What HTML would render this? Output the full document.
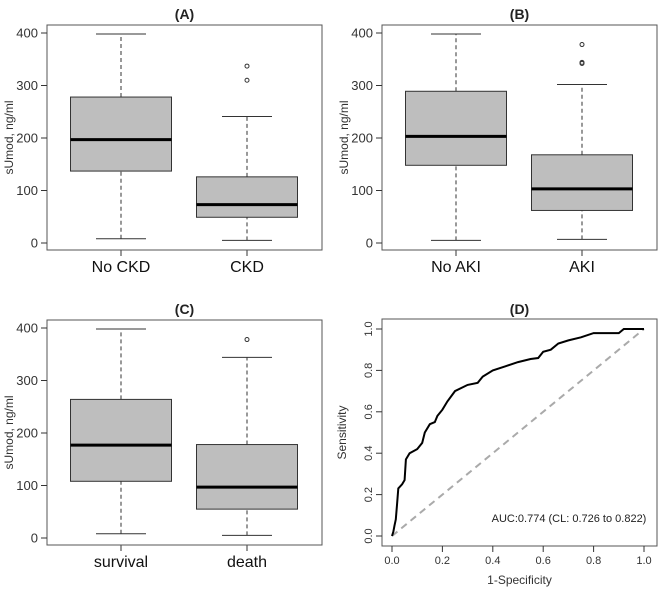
<!DOCTYPE html>
<html><head><meta charset="utf-8"><style>
body{margin:0;background:#fff}
svg{display:block;font-family:"Liberation Sans",Arial,sans-serif}
</style></head><body>
<svg id="fig" width="669" height="590" viewBox="0 0 669 590"></svg>
<script>
// Box plot data: [whiskerLow, Q1, median, Q3, whiskerHigh]
const catsA = ["No CKD", "CKD"];
const statsA = [[8,137,197,278,398],[5,49,73,126,241]];
const outA = [[],[310,337]];
const catsB = ["No AKI", "AKI"];
const statsB = [[5,148,203,289,398],[7,62,103,168,302]];
const outB = [[],[342,344,378]];
const catsC = ["survival", "death"];
const statsC = [[8,108,177,264,398],[5,55,97,178,344]];
const outC = [[],[378]];
const yTicks = [0,100,200,300,400];
// ROC data
const rocFpr = [0,0.005,0.01,0.015,0.02,0.025,0.04,0.05,0.055,0.07,0.1,0.12,0.13,0.15,0.17,0.18,0.2,0.22,0.25,0.3,0.34,0.36,0.4,0.45,0.5,0.55,0.58,0.6,0.63,0.66,0.7,0.75,0.8,0.9,0.92,1];
const rocTpr = [0,0.02,0.05,0.08,0.15,0.23,0.25,0.27,0.37,0.40,0.42,0.45,0.50,0.54,0.55,0.58,0.61,0.65,0.70,0.73,0.74,0.77,0.80,0.82,0.84,0.855,0.86,0.89,0.90,0.93,0.945,0.96,0.98,0.98,1.0,1.0];
const rocTicks = [0,0.2,0.4,0.6,0.8,1.0];
const rocTickLabels = ["0.0","0.2","0.4","0.6","0.8","1.0"];

const svg = document.getElementById('fig');
const NS = 'http://www.w3.org/2000/svg';
function mk(tag, attrs, parent, text){
  const e = document.createElementNS(NS, tag);
  for (const k in attrs) e.setAttribute(k, attrs[k]);
  if (text !== undefined) e.textContent = text;
  (parent||svg).appendChild(e);
  return e;
}

function boxPanel(ox, oy, title, cats, stats, outs, key){
  const g = mk('g', {});
  
  
  const L = ox+47, R = ox+322, T = oy+25, B = oy+250;
  const y = v => oy + 243 - v*210/400;
  const xc = [ox+121, ox+247];
  const t = mk('text', {x:(L+R)/2, y:oy+19, 'text-anchor':'middle', 'font-size':14, 'font-weight':'bold', fill:'#222'}, g, title);
  
  
  stats.forEach((s, i) => {
    const c = xc[i], hw = 50.5, ww = 25;
    const bg = mk('g', {}, g);
    
    
    mk('line', {x1:c, x2:c, y1:y(s[0]), y2:y(s[1]), stroke:'#333', 'stroke-dasharray':'4,3'}, bg);
    mk('line', {x1:c, x2:c, y1:y(s[3]), y2:y(s[4]), stroke:'#333', 'stroke-dasharray':'4,3'}, bg);
    mk('line', {x1:c-ww, x2:c+ww, y1:y(s[0]), y2:y(s[0]), stroke:'#333'}, bg);
    mk('line', {x1:c-ww, x2:c+ww, y1:y(s[4]), y2:y(s[4]), stroke:'#333'}, bg);
    mk('rect', {x:c-hw, y:y(s[3]), width:2*hw, height:y(s[1])-y(s[3]), fill:'#bebebe', stroke:'#333'}, bg);
    mk('line', {x1:c-hw, x2:c+hw, y1:y(s[2]), y2:y(s[2]), stroke:'#000', 'stroke-width':3}, bg);
    outs[i].forEach(v => {
      const o = mk('circle', {cx:c, cy:y(v), r:2, fill:'none', stroke:'#333'}, bg);
      
      
    });
    const xl = mk('text', {x:c, y:oy+272, 'text-anchor':'middle', 'font-size':16, fill:'#111'}, g, cats[i]);
    
    
    mk('line', {x1:c, x2:c, y1:B, y2:B+6, stroke:'#333'}, g);
  });
  mk('rect', {x:L, y:T, width:R-L, height:B-T, fill:'none', stroke:'#555'}, g);
  yTicks.forEach(v => {
    mk('line', {x1:L-6, x2:L, y1:y(v), y2:y(v), stroke:'#333'}, g);
    const tl = mk('text', {x:L-9, y:y(v)+4.5, 'text-anchor':'end', 'font-size':13, fill:'#333'}, g, v);
    
    
  });
  const yt = mk('text', {x:0, y:0, transform:`translate(${ox+13},${(T+B)/2}) rotate(-90)`, 'text-anchor':'middle', 'font-size':12, fill:'#333'}, g, 'sUmod, ng/ml');
  
  
}

boxPanel(0, 0, '(A)', catsA, statsA, outA, 'a');
boxPanel(335, 0, '(B)', catsB, statsB, outB, 'b');
boxPanel(0, 295, '(C)', catsC, statsC, outC, 'c');

// ROC panel
(function(){
  const g = mk('g', {});
  
  
  const L = 382, R = 657, T = 319, B = 546;
  const x = v => 392 + v*252;
  const y = v => 536 - v*207;
  const t = mk('text', {x:(L+R)/2, y:314, 'text-anchor':'middle', 'font-size':14, 'font-weight':'bold', fill:'#222'}, g, '(D)');
  
  
  mk('rect', {x:L, y:T, width:R-L, height:B-T, fill:'none', stroke:'#555'}, g);
  const diag = mk('line', {x1:x(0), y1:y(0), x2:x(1), y2:y(1), stroke:'#aaa', 'stroke-width':2, 'stroke-dasharray':'7,5'}, g);
  
  
  const pts = rocFpr.map((f, i) => x(f).toFixed(1) + ',' + y(rocTpr[i]).toFixed(1)).join(' ');
  const roc = mk('polyline', {points:pts, fill:'none', stroke:'#000', 'stroke-width':2}, g);
  
  
  rocTicks.forEach((v, i) => {
    mk('line', {x1:x(v), x2:x(v), y1:B, y2:B+6, stroke:'#333'}, g);
    const xl = mk('text', {x:x(v), y:B+18, 'text-anchor':'middle', 'font-size':11, fill:'#333'}, g, rocTickLabels[i]);
    
    
    mk('line', {x1:L-6, x2:L, y1:y(v), y2:y(v), stroke:'#333'}, g);
    const yl = mk('text', {x:0, y:0, transform:`translate(${L-10},${y(v)}) rotate(-90)`, 'text-anchor':'middle', 'font-size':11, fill:'#333'}, g, rocTickLabels[i]);
    
    
  });
  const xt = mk('text', {x:(L+R)/2, y:584, 'text-anchor':'middle', 'font-size':12, fill:'#333'}, g, '1-Specificity');
  
  
  const yt = mk('text', {x:0, y:0, transform:`translate(346,${(T+B)/2}) rotate(-90)`, 'text-anchor':'middle', 'font-size':12, fill:'#333'}, g, 'Sensitivity');
  
  
  const auc = mk('text', {x:569, y:522, 'text-anchor':'middle', 'font-size':11, fill:'#222'}, g, 'AUC:0.774 (CL: 0.726 to 0.822)');
  
  
})();
</script>
</body></html>
